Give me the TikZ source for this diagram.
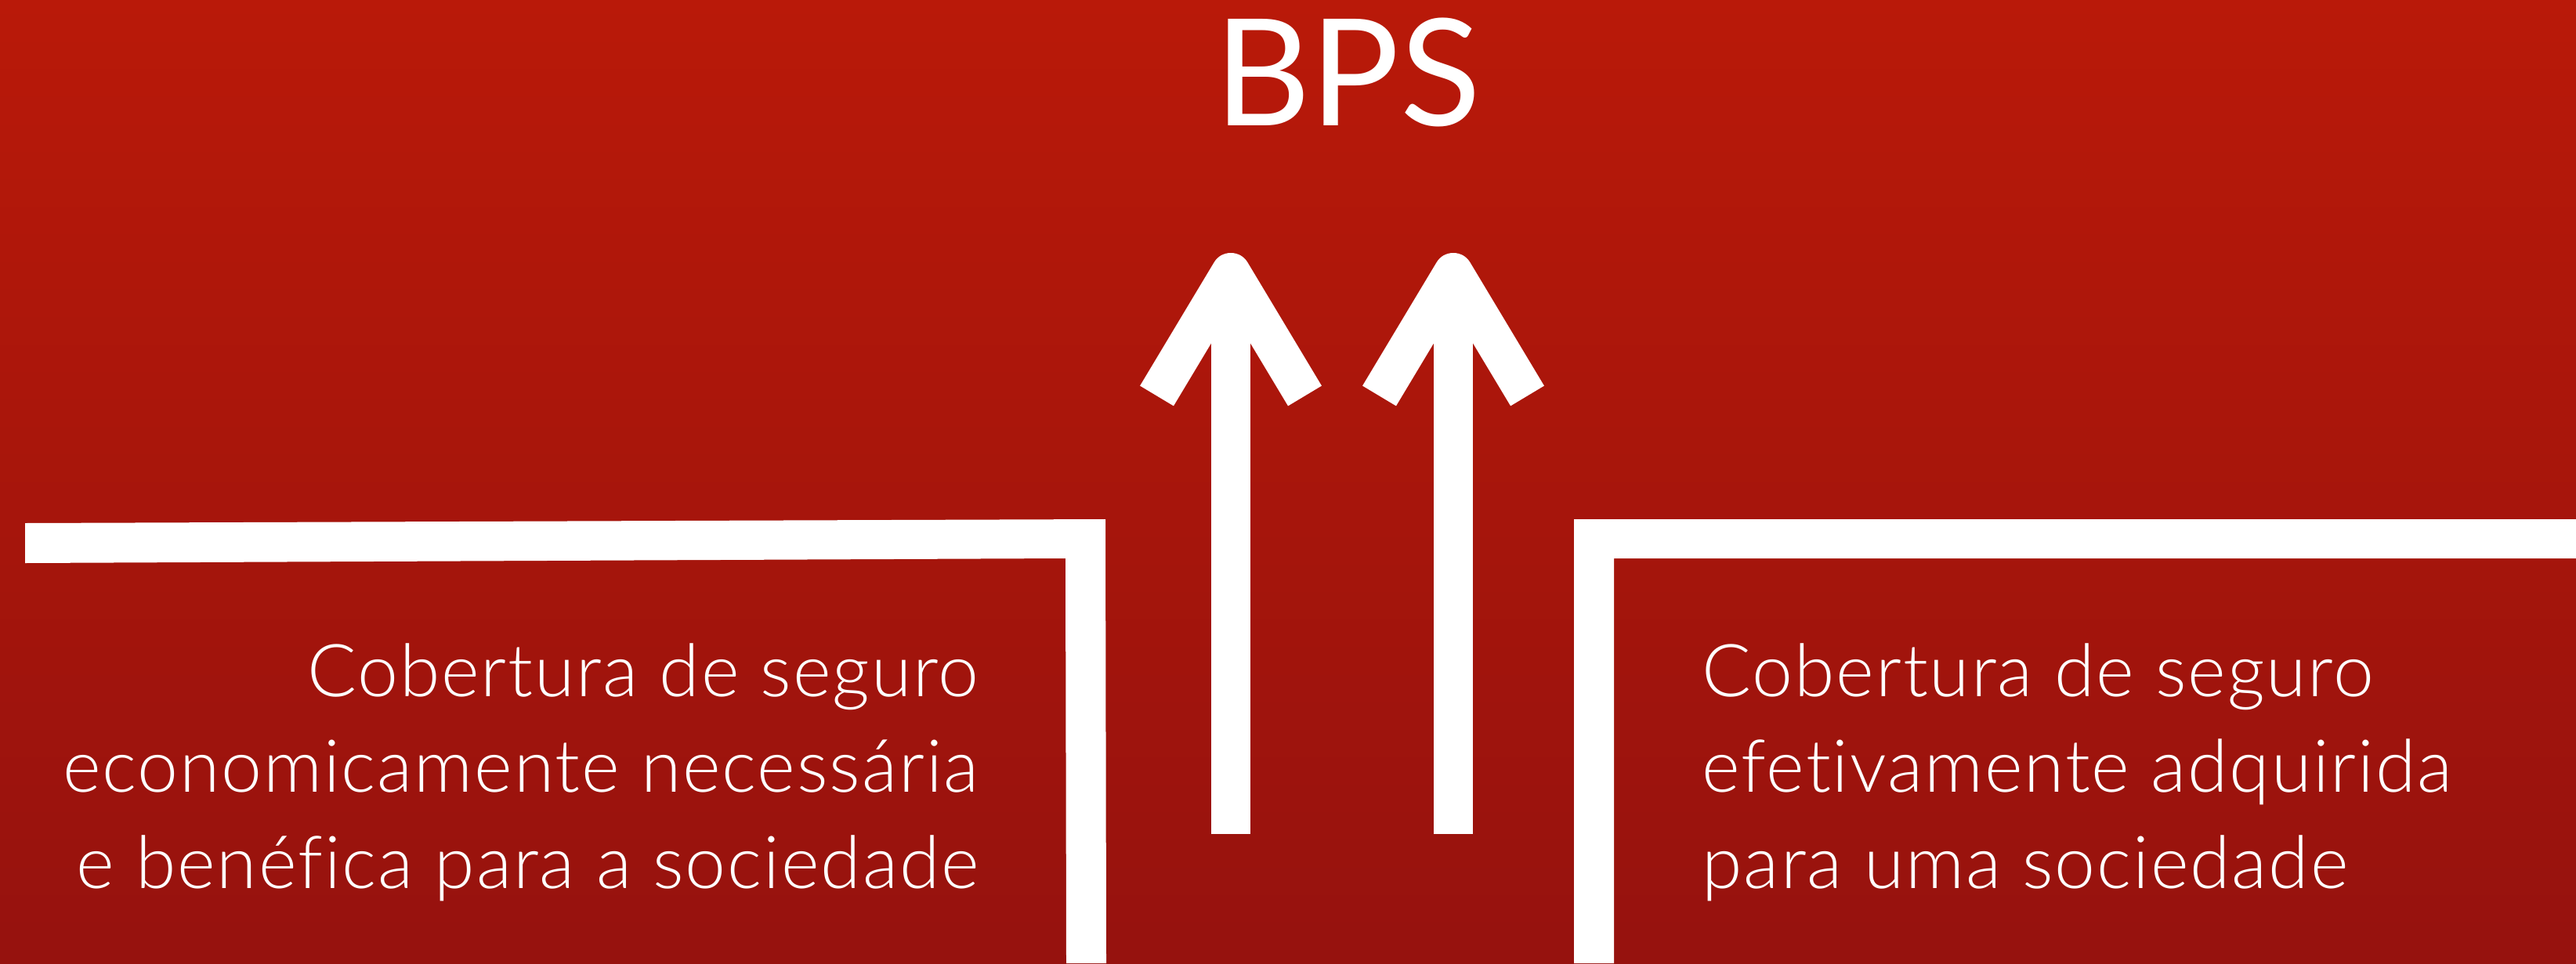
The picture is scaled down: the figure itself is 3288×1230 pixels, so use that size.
\documentclass[tikz,border=0pt]{standalone}
\usepackage{fontspec}
\setmainfont{Lato}[UprightFont=* Light,LetterSpace=2,Ligatures=NoCommon]
\newfontfamily\titlefont{Lato}
\definecolor{bgtop}{RGB}{185,25,9}
\definecolor{bgbot}{RGB}{150,18,14}
\begin{document}
\begin{tikzpicture}[x=0.01cm,y=-0.01cm,
  barfill/.style={fill=white,draw=none},
  shaftline/.style={draw=white,line width=0.5cm,line cap=butt},
  headline/.style={draw=white,line width=0.5cm,line cap=butt,line join=round},
  bodytext/.style={text=white,inner sep=0pt,font=\fontsize{26.5}{31}\selectfont},
  titletext/.style={text=white,inner sep=0pt,font=\titlefont\fontsize{54}{60}\selectfont}]
\useasboundingbox (0,0) rectangle (3288,1230);
\shade[top color=bgtop,bottom color=bgbot] (0,0) rectangle (3288,1230);
% title
\node[titletext,anchor=base] (bps) at (1720,160) {BPS};
% left bracket
\fill[barfill] (32,668) -- (1411,663) -- (1412,1230) -- (1361,1230) -- (1360,713) -- (32,719) -- cycle;
% right bracket
\fill[barfill] (2009,663) -- (3288,663) -- (3288,713) -- (2060,713) -- (2060,1230) -- (2009,1230) -- cycle;
% arrows
\coordinate (a1b) at (1571,1065);
\coordinate (a1t) at (1571,372);
\coordinate (a1p) at (1571,348);
\coordinate (a1l) at (1476.5,505.5);
\coordinate (a1r) at (1665.5,505.5);
\draw[shaftline] (a1b) -- (a1t);
\draw[headline] (a1l) -- (a1p) -- (a1r);
\coordinate (a2b) at (1855,1065);
\coordinate (a2t) at (1855,372);
\coordinate (a2p) at (1855,348);
\coordinate (a2l) at (1760.5,505.5);
\coordinate (a2r) at (1949.5,505.5);
\draw[shaftline] (a2b) -- (a2t);
\draw[headline] (a2l) -- (a2p) -- (a2r);
% left text
\node[bodytext,anchor=base east] (l1) at (1250,889.5) {Cobertura de seguro};
\node[bodytext,anchor=base east] (l2) at (1250,1011.5) {economicamente necessária};
\node[bodytext,anchor=base east] (l3) at (1250,1134) {e benéfica para a sociedade};
% right text
\node[bodytext,anchor=base west] (r1) at (2172,889.5) {Cobertura de seguro};
\node[bodytext,anchor=base west] (r2) at (2172,1011.5) {efetivamente adquirida};
\node[bodytext,anchor=base west] (r3) at (2172,1134) {para uma sociedade};
\end{tikzpicture}
\end{document}
